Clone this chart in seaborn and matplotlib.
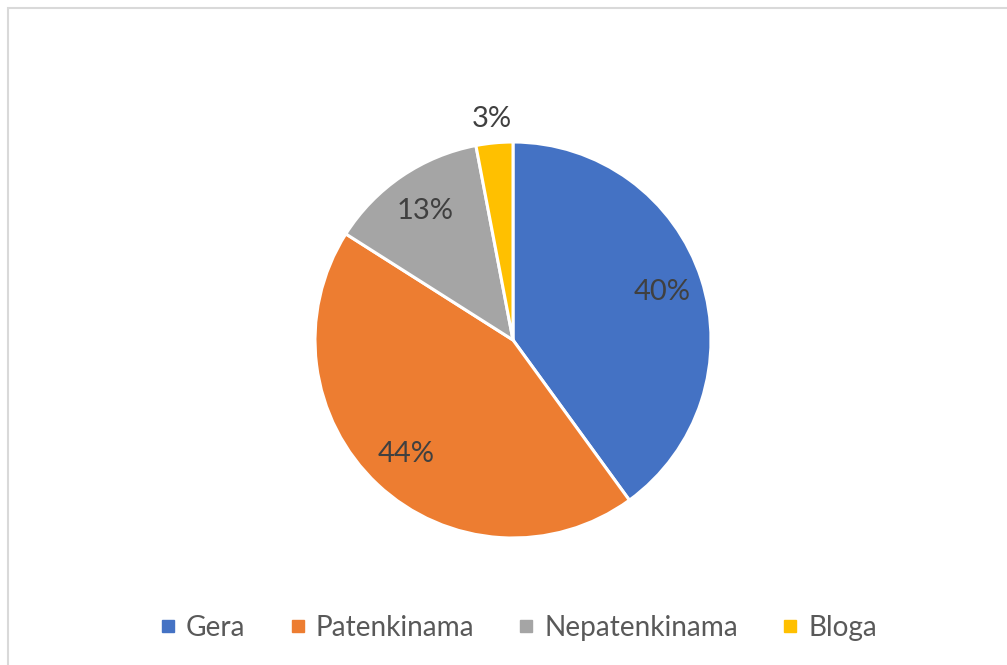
import matplotlib
matplotlib.use("Agg")
import matplotlib.pyplot as plt
from matplotlib.lines import Line2D
from matplotlib.patches import Rectangle
import seaborn as sns

# 데이터
categories = ["Gera", "Patenkinama", "Nepatenkinama", "Bloga"]
values = [40, 44, 13, 3]
colors = ["#4472C4", "#ED7D31", "#A5A5A5", "#FFC000"]

sns.set_theme(style="white")
plt.rcParams["font.family"] = ["Lato", "DejaVu Sans"]

W, H = 1007, 665
fig = plt.figure(figsize=(W / 100, H / 100), dpi=100)

# 바깥 테두리
fig.add_artist(Rectangle((8 / W, -0.1), 1.2, (H - 8) / H + 0.1, transform=fig.transFigure,
                         fill=False, edgecolor="#D9D9D9", linewidth=1.5))

# 파이 영역 (중심 513,340 / 반지름 198 px)
cx, cy, r = 513, 340, 198
ax = fig.add_axes([(cx - r) / W, (H - cy - r) / H, 2 * r / W, 2 * r / H])

pal = sns.color_palette(colors)
wedges, texts, autotexts = ax.pie(
    values, colors=pal, startangle=90, counterclock=False,
    autopct="%1.0f%%", pctdistance=0.79, radius=1,
    wedgeprops=dict(edgecolor="white", linewidth=2.2),
    textprops=dict(color="#404040", fontsize=21),
)
# 3% 라벨은 바깥으로
x, y = autotexts[3].get_position()
autotexts[3].set_position((x / 0.79 * 1.12, y / 0.79 * 1.12))

ax.set_xlim(-1, 1)
ax.set_ylim(-1, 1)
ax.axis("off")

handles = [Line2D([0], [0], marker="s", linestyle="none", markersize=8,
                  markerfacecolor=c, markeredgecolor=c) for c in colors]
fig.legend(handles, categories, loc="center", bbox_to_anchor=(519 / W, (H - 628) / H),
           ncol=4, frameon=False, fontsize=20.2, labelcolor="#595959",
           handlelength=0.5, handletextpad=0.4, columnspacing=1.6)

fig.savefig("out.png", dpi=100)
